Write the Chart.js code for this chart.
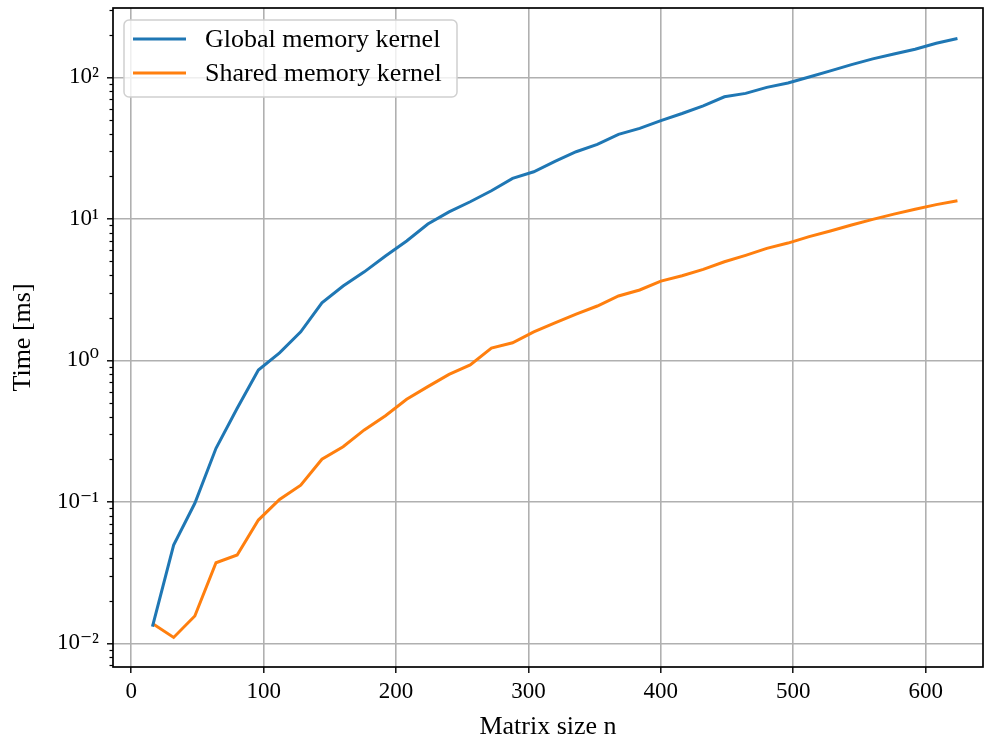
<!DOCTYPE html>
<html>
<head>
<meta charset="utf-8">
<script src="https://cdn.jsdelivr.net/npm/chart.js@4.4.1/dist/chart.umd.min.js"></script>
<style>
  html, body { margin: 0; padding: 0; background: #fff; }
</style>
</head>
<body>
<canvas id="timingChart" width="985" height="738"></canvas>
<script>
// matrix sizes (x) and measured times in ms (y)
const matrixSizes = [16, 32, 48, 64, 80, 96, 112, 128, 144, 160, 176, 192, 208, 224, 240, 256,
  272, 288, 304, 320, 336, 352, 368, 384, 400, 416, 432, 448, 464, 480, 496, 512,
  528, 544, 560, 576, 592, 608, 624];
const globalTimes = [0.0131, 0.0495, 0.0976, 0.239, 0.458, 0.854, 1.13, 1.59, 2.55, 3.35, 4.22,
  5.46, 6.97, 9.19, 11.2, 13.2, 15.8, 19.3, 21.5, 25.5, 29.8, 33.6, 39.5, 43.6, 49.4,
  55.5, 62.9, 72.9, 77.0, 84.9, 91.1, 100.5, 111, 123, 135, 146, 158, 174, 188];
const sharedTimes = [0.0138, 0.0110, 0.0156, 0.0371, 0.0421, 0.0743, 0.104, 0.131, 0.200, 0.245,
  0.322, 0.406, 0.530, 0.652, 0.796, 0.927, 1.22, 1.33, 1.59, 1.84, 2.12, 2.42, 2.85,
  3.14, 3.63, 3.96, 4.39, 4.97, 5.52, 6.18, 6.74, 7.48, 8.20, 9.04, 9.91, 10.8, 11.7, 12.6, 13.4];
const seriesNames = ['Global memory kernel', 'Shared memory kernel'];
const xTicks = [0, 100, 200, 300, 400, 500, 600];
const yTicks = [0.01, 0.1, 1, 10, 100];
const yTickLabels = ['10\u207B\u00B2', '10\u207B\u00B9', '10\u2070', '10\u00B9', '10\u00B2'];

const serif = "'Liberation Serif', 'DejaVu Serif', serif";
const tickSize = 23;
const textSize = 26;

// spines, minor log ticks and the in-axes legend
const frameAndLegend = {
    id: 'frameAndLegend',
    afterDraw(chart) {
        const c = chart.ctx;
        const area = chart.chartArea;
        const y = chart.scales.y;

        // minor ticks on y
        c.save();
        c.strokeStyle = '#000';
        c.lineWidth = 1.2;
        for (let e = -3; e <= 2; e++) {
            for (let k = 2; k <= 9; k++) {
                const v = k * Math.pow(10, e);
                if (v < y.min || v > y.max) continue;
                const py = Math.round(y.getPixelForValue(v)) + 0.5;
                c.beginPath();
                c.moveTo(area.left, py);
                c.lineTo(area.left - 3.5, py);
                c.stroke();
            }
        }

        // box around the axes
        c.lineWidth = 1.7;
        c.strokeRect(area.left, area.top, area.right - area.left, area.bottom - area.top);

        // legend
        const bx = area.left + 11, by = area.top + 12, bw = 333, bh = 77;
        c.beginPath();
        c.roundRect(bx, by, bw, bh, 5);
        c.fillStyle = 'rgba(255,255,255,0.8)';
        c.fill();
        c.strokeStyle = '#d0d0d0';
        c.lineWidth = 1.5;
        c.stroke();
        c.font = textSize + 'px ' + serif;
        c.textBaseline = 'middle';
        chart.data.datasets.forEach(function(ds, i) {
            const ly = by + 19 + i * 34;
            c.strokeStyle = ds.borderColor;
            c.lineWidth = 3;
            c.beginPath();
            c.moveTo(bx + 9, ly);
            c.lineTo(bx + 62, ly);
            c.stroke();
            c.fillStyle = '#000';
            c.fillText(ds.label, bx + 81, ly + 1);
        });
        c.restore();
    }
};

const ctx = document.getElementById('timingChart');
const chart = new Chart(ctx.getContext('2d'), {
    type: 'line',
    data: {
        datasets: [
            {
                label: seriesNames[0],
                data: matrixSizes.map((n, i) => ({ x: n, y: globalTimes[i] })),
                borderColor: '#1f77b4',
                borderWidth: 3,
                pointRadius: 0,
                tension: 0,
                fill: false
            },
            {
                label: seriesNames[1],
                data: matrixSizes.map((n, i) => ({ x: n, y: sharedTimes[i] })),
                borderColor: '#ff7f0e',
                borderWidth: 3,
                pointRadius: 0,
                tension: 0,
                fill: false
            }
        ]
    },
    options: {
        responsive: false,
        animation: false,
        devicePixelRatio: 1,
        layout: { padding: { top: 8, right: 2, left: 0, bottom: 0 } },
        plugins: {
            legend: { display: false },
            tooltip: { enabled: false }
        },
        scales: {
            x: {
                type: 'linear',
                min: -13.8,
                max: 643.3,
                afterBuildTicks: function(scale) {
                    scale.ticks = xTicks.map(v => ({ value: v }));
                },
                afterFit: function(scale) {
                    scale.height = 71;
                    scale.paddingLeft = 0;
                    scale.paddingRight = 0;
                },
                grid: {
                    color: '#b0b0b0',
                    lineWidth: 1.6,
                    tickColor: '#000',
                    tickLength: 6,
                    tickWidth: 1.4
                },
                border: { display: false },
                ticks: {
                    color: '#000',
                    padding: 5,
                    maxRotation: 0,
                    font: { family: serif, size: tickSize },
                    callback: v => String(v)
                },
                title: {
                    display: true,
                    text: 'Matrix size n',
                    color: '#000',
                    font: { family: serif, size: textSize, lineHeight: 1 },
                    padding: { top: 0, bottom: -2 }
                }
            },
            y: {
                type: 'logarithmic',
                min: 0.0068,
                max: 309,
                afterBuildTicks: function(scale) {
                    scale.ticks = yTicks.map(v => ({ value: v }));
                },
                afterFit: function(scale) {
                    scale.width = 113;
                    scale.paddingTop = 0;
                    scale.paddingBottom = 0;
                },
                grid: {
                    color: '#b0b0b0',
                    lineWidth: 1.6,
                    tickColor: '#000',
                    tickLength: 6,
                    tickWidth: 1.4
                },
                border: { display: false },
                ticks: {
                    color: '#000',
                    padding: 8,
                    font: { family: serif, size: tickSize },
                    callback: function(value) {
                        const i = yTicks.indexOf(value);
                        return i >= 0 ? yTickLabels[i] : '';
                    }
                },
                title: {
                    display: true,
                    text: 'Time [ms]',
                    color: '#000',
                    font: { family: serif, size: textSize, lineHeight: 1 },
                    padding: { top: 10, bottom: 0 }
                }
            }
        }
    },
    plugins: [frameAndLegend]
});
</script>
</body>
</html>
